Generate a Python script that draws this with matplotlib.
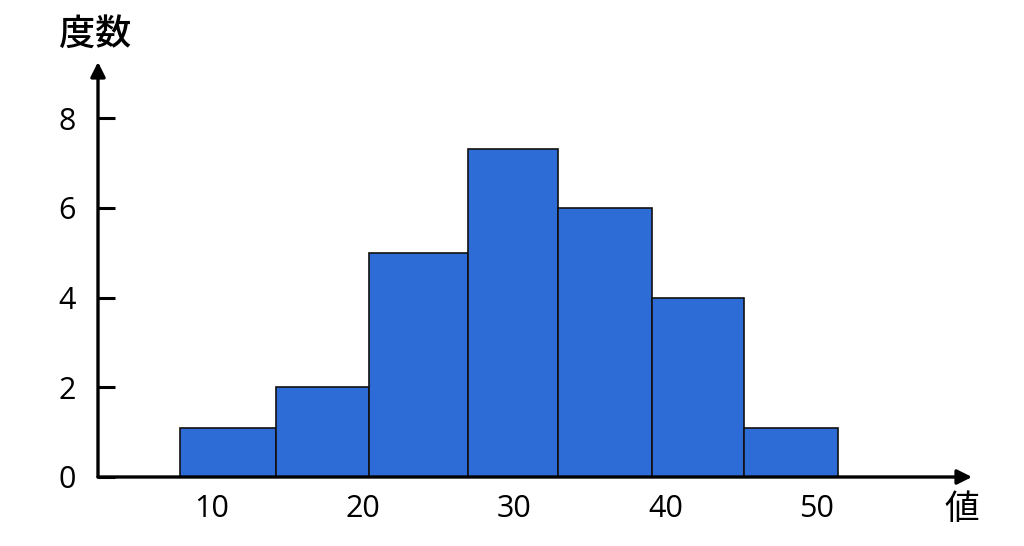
import matplotlib
matplotlib.use("Agg")
import matplotlib.pyplot as plt

plt.rcParams['font.family'] = ['Noto Sans CJK JP', 'DejaVu Sans']

# Data
bin_edges = [7.9, 14.2, 20.4, 26.9, 32.9, 39.1, 45.2, 51.4]
counts = [1.1, 2, 5, 7.3, 6, 4, 1.1]
x_ticks = [10, 20, 30, 40, 50]
y_ticks = [0, 2, 4, 6, 8]
x_label = "値"
y_label = "度数"

fig = plt.figure(figsize=(10.24, 5.46), dpi=100)
W, H = 1024, 546
ax = fig.add_axes([98 / W, 69 / H, (972 - 98) / W, (477 - 62) / H])

lefts = bin_edges[:-1]
widths = [b - a for a, b in zip(bin_edges[:-1], bin_edges[1:])]
ax.bar(lefts, counts, width=widths, align='edge', color='#2d6bd6',
       edgecolor='#111111', linewidth=1.2, zorder=2)

ax.set_xlim(2.46, 60.25)
ax.set_ylim(0, 9.25)

for s in ax.spines.values():
    s.set_visible(False)

# axis arrows
ax.annotate('', xy=(1, 0), xytext=(0, 0), xycoords='axes fraction',
            arrowprops=dict(arrowstyle='-|>', color='black', lw=2.4,
                            mutation_scale=22, shrinkA=0, shrinkB=0),
            annotation_clip=False, zorder=5)
ax.annotate('', xy=(0, 1), xytext=(0, 0), xycoords='axes fraction',
            arrowprops=dict(arrowstyle='-|>', color='black', lw=2.4,
                            mutation_scale=22, shrinkA=0, shrinkB=0),
            annotation_clip=False, zorder=5)

ax.set_xticks(x_ticks)
ax.set_xticklabels([str(v) for v in x_ticks])
ax.set_yticks(y_ticks)
ax.set_yticklabels([str(v) for v in y_ticks])
ax.tick_params(axis='x', length=0, pad=12, labelsize=22)
ax.tick_params(axis='y', direction='in', length=12, width=2.2, pad=16, labelsize=22)
for lab in ax.get_xticklabels() + ax.get_yticklabels():
    lab.set_family(['Open Sans', 'DejaVu Sans'])

fig.text(95 / W, 1 - 35 / H, y_label, fontsize=26, fontweight='medium',
         ha='center', va='center')
fig.text(962 / W, 1 - 510 / H, x_label, fontsize=25,
         ha='center', va='center')

fig.savefig('out.png', dpi=100, facecolor='white')
